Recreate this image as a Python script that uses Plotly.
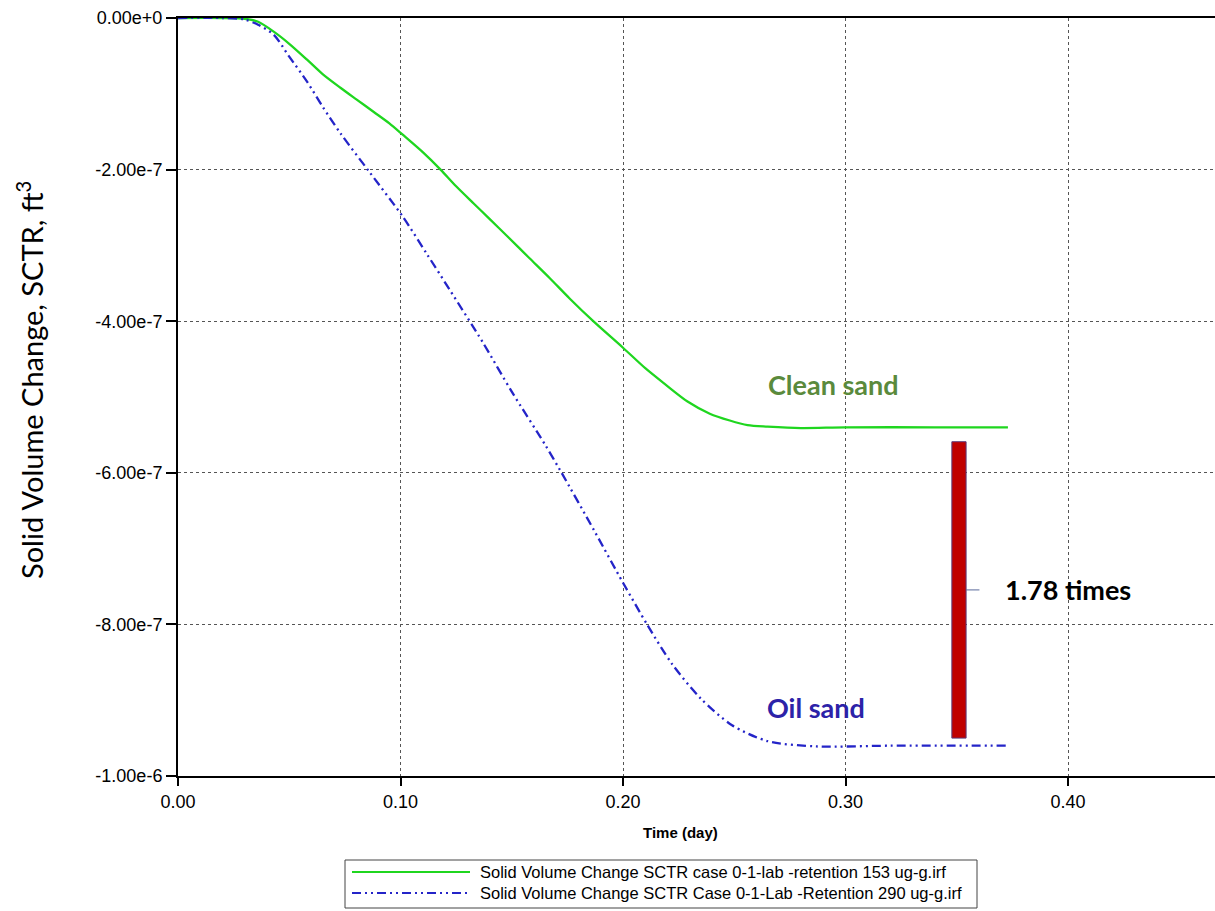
import plotly.graph_objects as go

# Time axis (day) and solid volume change (ft^3) for the two retention cases
time_clean = [0, 0.020, 0.030, 0.036, 0.043, 0.050, 0.058, 0.065, 0.073, 0.080,
              0.088, 0.095, 0.101, 0.110, 0.118, 0.125, 0.133, 0.140, 0.148, 0.158,
              0.167, 0.176, 0.187, 0.200, 0.210, 0.218, 0.229, 0.239, 0.248, 0.256,
              0.265, 0.280, 0.300, 0.340, 0.373]
vol_clean_e7 = [0, 0, -0.01, -0.05, -0.18, -0.34, -0.55, -0.74, -0.92, -1.07,
                -1.24, -1.39, -1.54, -1.77, -2.00, -2.22, -2.45, -2.65, -2.88, -3.17,
                -3.43, -3.70, -4.01, -4.35, -4.62, -4.81, -5.06, -5.22, -5.31, -5.37,
                -5.39, -5.41, -5.40, -5.40, -5.40]

time_oil = [0, 0.020, 0.030, 0.036, 0.043, 0.050, 0.058, 0.065, 0.073, 0.086,
            0.101, 0.112, 0.122, 0.137, 0.150, 0.165, 0.172, 0.187, 0.200, 0.211,
            0.222, 0.235, 0.249, 0.265, 0.287, 0.320, 0.373]
vol_oil_e7 = [0, 0, -0.02, -0.09, -0.22, -0.51, -0.84, -1.17, -1.52, -2.03,
              -2.62, -3.12, -3.58, -4.28, -4.93, -5.63, -5.98, -6.76, -7.45, -8.01,
              -8.52, -8.98, -9.33, -9.54, -9.61, -9.60, -9.60]

vol_clean = [v * 1e-7 for v in vol_clean_e7]
vol_oil = [v * 1e-7 for v in vol_oil_e7]

series_names = [
    "Solid Volume Change SCTR case 0-1-lab -retention 153 ug-g.irf",
    "Solid Volume Change SCTR Case 0-1-Lab -Retention 290 ug-g.irf",
]

x_ticks = [0.0, 0.1, 0.2, 0.3, 0.4]
y_ticks = [0, -2e-7, -4e-7, -6e-7, -8e-7, -1e-6]
y_tick_text = ["0.00e+0", "-2.00e-7", "-4.00e-7", "-6.00e-7", "-8.00e-7", "-1.00e-6"]

# Bracket marking the gap between the two plateaus
bracket_time = 0.351
bracket_top = -5.59e-7
bracket_bottom = -9.50e-7
ratio = vol_oil[-1] / vol_clean[-1]

GREEN = "#1fd61f"
BLUE = "#2424c8"
ARIAL = "Liberation Sans, Arial, sans-serif"
CAL = "Lato, Carlito, sans-serif"
DASH = "9px,4px,2px,4px,2px,4px"

W, H = 1215, 911
ML, MR, MT, MB = 178, 0, 18, 135
PW, PH = W - ML - MR, H - MT - MB


def px(xp):
    return (xp - ML) / PW


def py(yp):
    return (H - MB - yp) / PH


fig = go.Figure()
fig.add_trace(go.Scatter(
    x=time_clean, y=vol_clean, mode="lines", name=series_names[0],
    line=dict(color=GREEN, width=2.3, shape="spline", smoothing=0.8),
    showlegend=False))
fig.add_trace(go.Scatter(
    x=time_oil, y=vol_oil, mode="lines", name=series_names[1],
    line=dict(color=BLUE, width=2.3, shape="spline", smoothing=0.8, dash=DASH),
    showlegend=False))

half_w = 0.0032
mid = (bracket_top + bracket_bottom) / 2
shapes = [
    dict(type="rect", xref="x", yref="y",
         x0=bracket_time - half_w, x1=bracket_time + half_w,
         y0=bracket_bottom, y1=bracket_top,
         fillcolor="#c00000", line=dict(color="#5a3a7a", width=1)),
    dict(type="line", xref="x", yref="y",
         x0=bracket_time + half_w, x1=bracket_time + half_w + 0.006,
         y0=mid, y1=mid, line=dict(color="#5a6a9a", width=1)),
    # legend box and swatches
    dict(type="rect", xref="paper", yref="paper",
         x0=px(345), x1=px(977), y0=py(908), y1=py(860),
         line=dict(color="#444444", width=1), fillcolor="white"),
    dict(type="line", xref="paper", yref="paper",
         x0=px(352), x1=px(470), y0=py(872), y1=py(872),
         line=dict(color=GREEN, width=2)),
    dict(type="line", xref="paper", yref="paper",
         x0=px(352), x1=px(470), y0=py(893), y1=py(893),
         line=dict(color=BLUE, width=2, dash=DASH)),
]

annotations = [
    dict(x=0.2944, y=-4.84e-7, xref="x", yref="y", text="<b>Clean sand</b>",
         xanchor="center", yanchor="middle", showarrow=False,
         font=dict(family=CAL, size=27, color="#5a8a3c")),
    dict(x=0.2867, y=-9.10e-7, xref="x", yref="y", text="<b>Oil sand</b>",
         xanchor="center", yanchor="middle", showarrow=False,
         font=dict(family=CAL, size=27, color="#2c22a8")),
    dict(x=bracket_time + half_w + 0.0165, y=mid,
         xref="x", yref="y", xanchor="left", yanchor="middle",
         text=f"<b>{ratio:.2f} times</b>",
         showarrow=False, font=dict(family=CAL, size=27, color="black")),
    dict(x=px(680), y=py(833), xref="paper", yref="paper", text="<b>Time (day)</b>",
         xanchor="center", yanchor="middle", showarrow=False,
         font=dict(family=ARIAL, size=15, color="black")),
    dict(x=px(30), y=py(380), xref="paper", yref="paper", textangle=-90,
         xanchor="center", yanchor="middle",
         text="Solid Volume Change, SCTR, ft<sup>3</sup>", showarrow=False,
         font=dict(family=CAL, size=29, color="black")),
    dict(x=px(478), y=py(872), xref="paper", yref="paper", xanchor="left",
         yanchor="middle", text=series_names[0], showarrow=False,
         font=dict(family=ARIAL, size=16.5, color="black")),
    dict(x=px(478), y=py(893), xref="paper", yref="paper", xanchor="left",
         yanchor="middle", text=series_names[1], showarrow=False,
         font=dict(family=ARIAL, size=16.5, color="black")),
]

fig.update_layout(
    width=W, height=H,
    margin=dict(l=ML, r=MR, t=MT, b=MB),
    paper_bgcolor="white", plot_bgcolor="white",
    shapes=shapes, annotations=annotations,
    font=dict(family=ARIAL, size=18, color="black"),
    xaxis=dict(range=[0, PW / 2225], tickvals=x_ticks, tickformat=".2f",
               showgrid=True, gridcolor="#555555", griddash="dot", gridwidth=1,
               showline=True, linecolor="black", linewidth=2, mirror=True,
               ticks="outside", ticklen=8, tickwidth=2, tickcolor="black",
               zeroline=False, tickfont=dict(family=ARIAL, size=18)),
    yaxis=dict(range=[-1e-6, 0], tickvals=y_ticks, ticktext=y_tick_text,
               showgrid=True, gridcolor="#555555", griddash="dot", gridwidth=1,
               showline=True, linecolor="black", linewidth=2,
               ticks="outside", ticklen=10, tickwidth=2, tickcolor="black",
               zeroline=False, tickfont=dict(family=ARIAL, size=18)),
)

fig.write_html("out.html")
